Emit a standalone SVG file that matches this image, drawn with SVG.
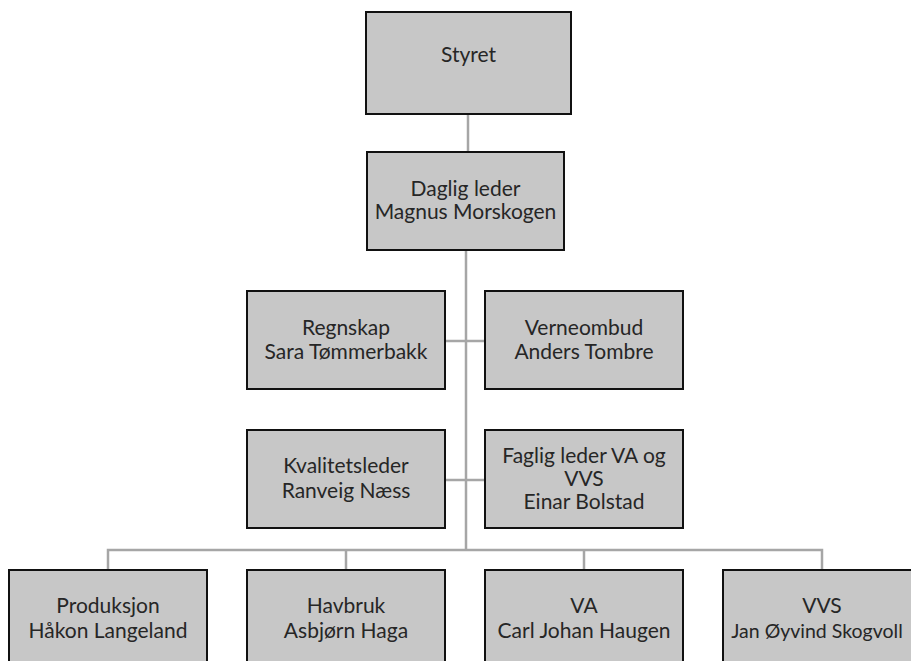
<svg xmlns="http://www.w3.org/2000/svg" width="911" height="661" viewBox="0 0 911 661">
<style>
.box{fill:#c7c7c7;stroke:#111;stroke-width:2}
.t{font-family:Lato,"Liberation Sans",sans-serif;font-size:21px;fill:#262626;text-anchor:middle}
.c{stroke:#a6a6a6;stroke-width:2.5;fill:none}
</style>
<rect width="911" height="661" fill="#fff"/>
<g id="connectors">
<line class="c" x1="468" y1="114" x2="468" y2="152"/>
<line class="c" x1="466" y1="250" x2="466" y2="550"/>
<line class="c" x1="445" y1="341" x2="485" y2="341"/>
<line class="c" x1="445" y1="480" x2="485" y2="480"/>
<polyline class="c" points="108,570 108,550 822,550 822,570"/>
<line class="c" x1="346" y1="550" x2="346" y2="570"/>
<line class="c" x1="584" y1="550" x2="584" y2="570"/>
</g>
<g id="styret">
<rect class="box" x="366" y="12" width="205" height="102"/>
<text class="t" x="468.5" y="62">Styret</text>
</g>
<g id="daglig-leder">
<rect class="box" x="367" y="152" width="197" height="98"/>
<text class="t" x="465.5" y="196">Daglig leder</text>
<text class="t" x="465.5" y="219">Magnus Morskogen</text>
</g>
<g id="regnskap">
<rect class="box" x="247" y="291" width="198" height="98"/>
<text class="t" x="346" y="335">Regnskap</text>
<text class="t" x="346" y="359">Sara Tømmerbakk</text>
</g>
<g id="verneombud">
<rect class="box" x="485" y="291" width="198" height="98"/>
<text class="t" x="584" y="335">Verneombud</text>
<text class="t" x="584" y="359">Anders Tombre</text>
</g>
<g id="kvalitetsleder">
<rect class="box" x="247" y="430" width="198" height="98"/>
<text class="t" x="346" y="473">Kvalitetsleder</text>
<text class="t" x="346" y="498">Ranveig Næss</text>
</g>
<g id="faglig-leder">
<rect class="box" x="485" y="430" width="198" height="98"/>
<text class="t" x="584" y="463">Faglig leder VA og</text>
<text class="t" x="584" y="486">VVS</text>
<text class="t" x="584" y="509">Einar Bolstad</text>
</g>
<g id="produksjon">
<rect class="box" x="9" y="570" width="198" height="98"/>
<text class="t" x="108" y="613">Produksjon</text>
<text class="t" x="108" y="638">Håkon Langeland</text>
</g>
<g id="havbruk">
<rect class="box" x="247" y="570" width="198" height="98"/>
<text class="t" x="346" y="613">Havbruk</text>
<text class="t" x="346" y="638">Asbjørn Haga</text>
</g>
<g id="va">
<rect class="box" x="485" y="570" width="198" height="98"/>
<text class="t" x="584" y="613">VA</text>
<text class="t" x="584" y="638">Carl Johan Haugen</text>
</g>
<g id="vvs">
<rect class="box" x="723" y="570" width="198" height="98"/>
<text class="t" x="822" y="613">VVS</text>
<text class="t" x="817" y="638" style="font-size:19.5px">Jan Øyvind Skogvoll</text>
</g>
</svg>
